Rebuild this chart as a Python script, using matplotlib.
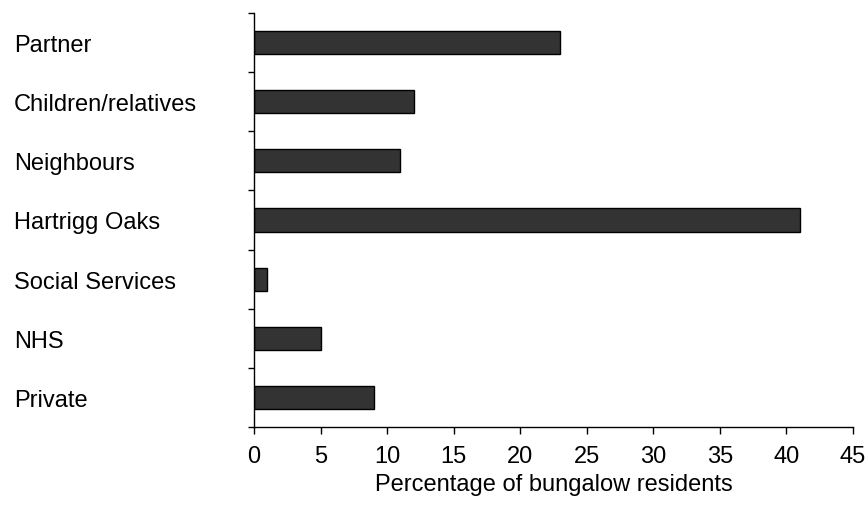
import matplotlib
matplotlib.use("Agg")
import matplotlib.pyplot as plt
import numpy as np

categories = ["Partner", "Children/relatives", "Neighbours", "Hartrigg Oaks",
              "Social Services", "NHS", "Private"]
values = [23, 12, 11, 41, 1, 5, 9]
xticks = [0, 5, 10, 15, 20, 25, 30, 35, 40, 45]
xlabel = "Percentage of bungalow residents"

plt.rcParams['font.family'] = ['Liberation Sans', 'DejaVu Sans']

W, H = 868, 506
fig = plt.figure(figsize=(W/100, H/100), dpi=100)
left, right, top, bottom = 254, 853, 14, 428
ax = fig.add_axes([left/W, 1 - bottom/H, (right-left)/W, (bottom-top)/H])

FS = 17
n = len(categories)
y = np.arange(n)
ax.barh(y, values, height=0.39, color="#333333", edgecolor="black", linewidth=1.0)
ax.set_ylim(n - 0.5, -0.5)
ax.set_xlim(0, 45)

ax.set_yticks(y)
ax.set_yticklabels(categories, fontsize=FS, ha="left")
ax.tick_params(axis="y", which="major", length=0, pad=240*0.72)
ax.set_yticks(np.arange(-0.5, n, 1.0), minor=True)
ax.tick_params(axis="y", which="minor", length=4, width=1, direction="out")

ax.set_xticks(xticks)
ax.set_xticklabels([str(t) for t in xticks], fontsize=FS)
ax.tick_params(axis="x", length=5, width=1, direction="out", pad=8)

fig.text((left + right) / 2 / W, 1 - 491 / H, xlabel, fontsize=FS,
         ha="center", va="baseline")

for s in ["top", "right"]:
    ax.spines[s].set_visible(False)
for s in ["left", "bottom"]:
    ax.spines[s].set_linewidth(1)

fig.savefig("out.png", dpi=100)
